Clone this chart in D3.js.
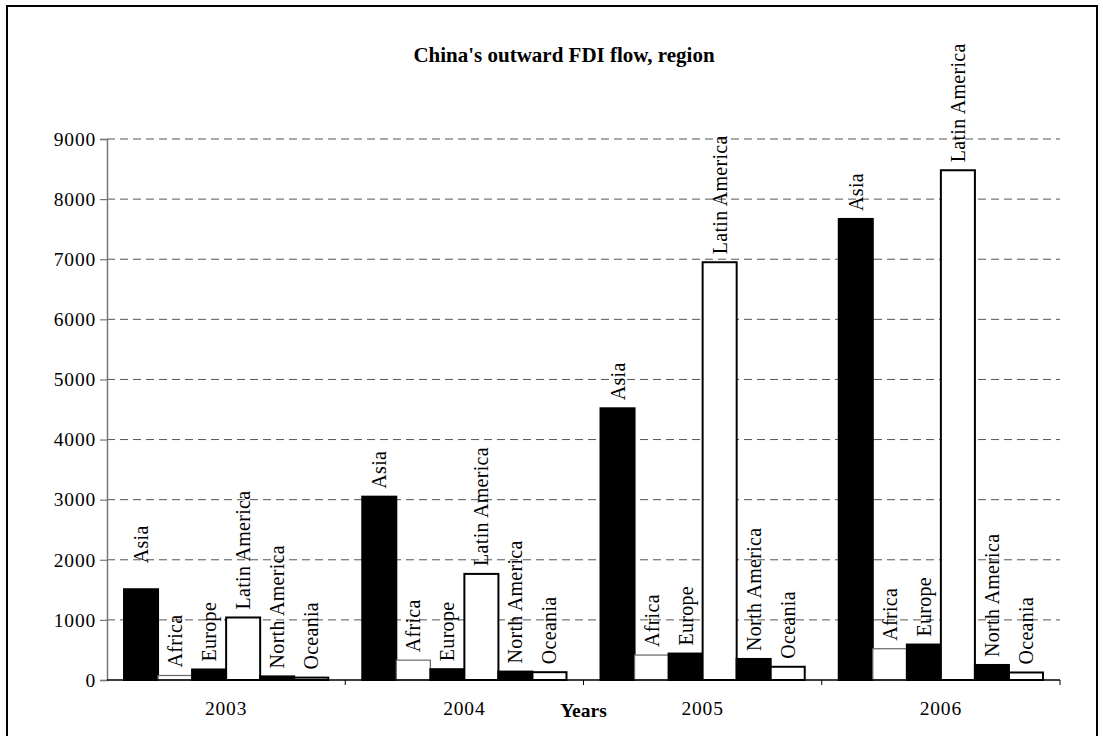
<!DOCTYPE html>
<html>
<head>
<meta charset="utf-8">
<script src="https://cdn.jsdelivr.net/npm/d3@7/dist/d3.min.js"></script>
<style>
  html, body { margin: 0; padding: 0; background: #fff; }
  svg { display: block; }
  svg text { font-family: "Liberation Serif", "Times New Roman", serif; }
</style>
</head>
<body>
<svg id="chart" width="1103" height="736"></svg>
<script>
// China's outward FDI flow by region (USD million)
const years = ["2003", "2004", "2005", "2006"];
const regions = ["Asia", "Africa", "Europe", "Latin America", "North America", "Oceania"];
const asia = [1510, 3050, 4520, 7670];
const africa = [75, 330, 415, 520];
const europe = [175, 180, 440, 590];
const latinAmerica = [1040, 1765, 6950, 8480];
const northAmerica = [60, 140, 350, 250];
const oceania = [40, 130, 220, 125];
const yTicks = [0, 1000, 2000, 3000, 4000, 5000, 6000, 7000, 8000, 9000];

const seriesValues = [asia, africa, europe, latinAmerica, northAmerica, oceania];
const fills = ["#000", "#fff", "#000", "#fff", "#000", "#fff"];
const serif = "'Liberation Serif', 'Times New Roman', serif";

const svg = d3.select("#chart");
const plotLeft = 107, plotRight = 1060, plotTop = 139, plotBottom = 680;

// chart frame
svg.append("rect")
  .attr("x", 7).attr("y", 6).attr("width", 1090).attr("height", 740)
  .attr("fill", "#fff").attr("stroke", "#000").attr("stroke-width", 2);

const x = d3.scaleBand().domain(years).range([plotLeft, plotRight]).padding(0);
const xi = d3.scaleBand().domain(regions).range([0, x.bandwidth()])
  .paddingInner(0).paddingOuter(0.5);
const y = d3.scaleLinear().domain([0, 9000]).range([plotBottom, plotTop]);

// dashed gridlines
svg.append("g").selectAll("line")
  .data(yTicks.filter(d => d > 0))
  .join("line")
  .attr("x1", plotLeft).attr("x2", plotRight)
  .attr("y1", d => y(d)).attr("y2", d => y(d))
  .attr("stroke", "#555").attr("stroke-width", 1)
  .attr("stroke-dasharray", "8,5");

// y axis
const yAxis = svg.append("g")
  .attr("transform", `translate(${plotLeft},0)`)
  .call(d3.axisLeft(y).tickValues(yTicks).tickFormat(d3.format("d"))
    .tickSizeOuter(0).tickSize(7).tickPadding(4));
yAxis.attr("font-family", null);
yAxis.select(".domain").attr("stroke", "#777").attr("stroke-width", 1.5);
yAxis.selectAll(".tick line").attr("stroke", "#777").attr("stroke-width", 1.2);
yAxis.selectAll(".tick text")
  .style("font-family", serif)
  .attr("font-size", 19.5).attr("letter-spacing", 0.8).attr("fill", "#000");

// bars
const rows = [];
years.forEach((yr, i) => {
  regions.forEach((rg, j) => {
    rows.push({ year: yr, region: rg, value: seriesValues[j][i], fill: fills[j] });
  });
});

const barG = svg.append("g");
barG.selectAll("rect")
  .data(rows)
  .join("rect")
  .attr("x", d => x(d.year) + xi(d.region))
  .attr("y", d => y(d.value))
  .attr("width", xi.bandwidth())
  .attr("height", d => y(0) - y(d.value))
  .attr("fill", d => d.fill)
  .attr("stroke", d => d.region === "Africa" ? "#666" : "#000")
  .attr("stroke-width", d => d.region === "Africa" ? 1.2 : 2);

// region labels above each bar, rotated; the first Asia label sits a little higher
const extraLift = d => (d.year === "2003" && d.region === "Asia") ? 18 : 0;
barG.selectAll("text")
  .data(rows)
  .join("text")
  .attr("transform", d => {
    const cx = x(d.year) + xi(d.region) + xi.bandwidth() / 2 + 7;
    return `translate(${cx},${y(d.value) - 8 - extraLift(d)}) rotate(-90)`;
  })
  .attr("text-anchor", "start")
  .style("font-family", serif)
  .attr("font-size", 20)
  .attr("letter-spacing", 0.3)
  .attr("fill", "#000")
  .text(d => d.region);

// x axis
const xAxisG = svg.append("g").attr("transform", `translate(0,${plotBottom})`);
xAxisG.append("line")
  .attr("x1", plotLeft).attr("x2", plotRight).attr("y1", 0).attr("y2", 0)
  .attr("stroke", "#000").attr("stroke-width", 1.5);
xAxisG.selectAll("line.tick")
  .data(years.map(yr => x(yr)).concat([plotRight]).filter(v => v > plotLeft))
  .join("line")
  .attr("class", "tick")
  .attr("x1", d => d).attr("x2", d => d)
  .attr("y1", 0).attr("y2", 5)
  .attr("stroke", "#000").attr("stroke-width", 1);
xAxisG.selectAll("text")
  .data(years)
  .join("text")
  .attr("x", d => x(d) + x.bandwidth() / 2)
  .attr("y", 35)
  .attr("text-anchor", "middle")
  .style("font-family", serif)
  .attr("font-size", 19.5)
  .attr("letter-spacing", 0.8)
  .text(d => d);

// axis title
svg.append("text")
  .attr("x", (plotLeft + plotRight) / 2).attr("y", 717)
  .attr("text-anchor", "middle")
  .style("font-family", serif)
  .attr("font-size", 19.5).attr("font-weight", "bold")
  .text("Years");

// chart title
svg.append("text")
  .attr("x", 564).attr("y", 62)
  .attr("text-anchor", "middle")
  .style("font-family", serif)
  .attr("font-size", 21).attr("font-weight", "bold")
  .text("China's outward FDI flow, region");
</script>
</body>
</html>
